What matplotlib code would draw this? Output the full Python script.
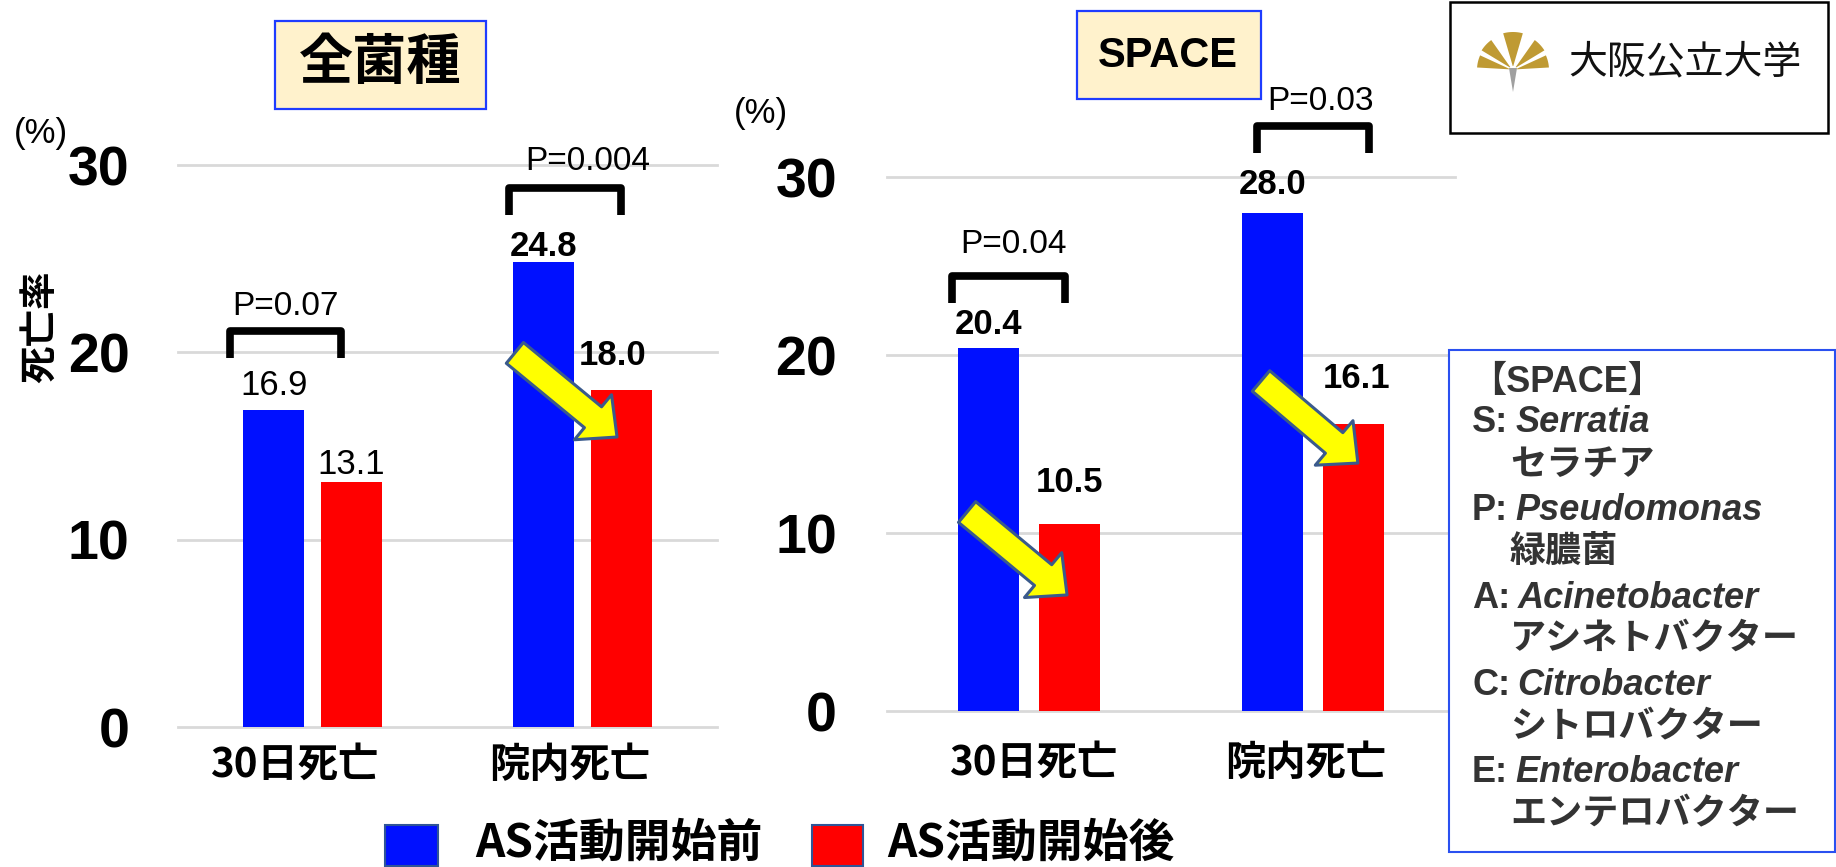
import numpy as np
import matplotlib
matplotlib.use('Agg')
import matplotlib.pyplot as plt
from matplotlib.patches import Rectangle, Polygon

# data
categories = ['30日死亡', '院内死亡']
series_names = ['AS活動開始前', 'AS活動開始後']
all_before = [16.9, 24.8]
all_after = [13.1, 18.0]
space_before = [20.4, 28.0]
space_after = [10.5, 16.1]
all_p = ['P=0.07', 'P=0.004']
space_p = ['P=0.04', 'P=0.03']
y_ticks = [0, 10, 20, 30]

space_abbr = ['S', 'P', 'A', 'C', 'E']
space_genus = ['Serratia', 'Pseudomonas', 'Acinetobacter', 'Citrobacter', 'Enterobacter']
space_kana = ['セラチア', '緑膿菌', 'アシネトバクター', 'シトロバクター', 'エンテロバクター']

BLUE = '#0010FF'
RED = '#FF0000'
GRID = '#D9D9D9'
NARROW = ['Liberation Sans Narrow', 'Liberation Sans', 'DejaVu Sans']
LATIN = ['Liberation Sans', 'DejaVu Sans']
JP = ['Noto Sans CJK JP', 'DejaVu Sans']
LATIN_JP = ['Liberation Sans', 'Noto Sans CJK JP', 'DejaVu Sans']

W, H = 1836, 867
fig = plt.figure(figsize=(W / 100, H / 100), dpi=100)


def px_axes(x0, y_bottom, x1, y_top):
    # pixel box (y from top) -> figure fraction
    return [x0 / W, (H - y_bottom) / H, (x1 - x0) / W, (y_bottom - y_top) / H]


def setup(ax, tick_pad, xlab_pad, xlab_pos):
    ax.set_xlim(-0.5, 1.5)
    ax.set_ylim(0, 30)
    ax.set_yticks(y_ticks)
    ax.set_yticklabels([str(t) for t in y_ticks], fontsize=40, fontweight='bold', family=NARROW)
    ax.set_xticks(xlab_pos)
    ax.set_xticklabels(categories, fontsize=29, fontweight='bold', family=JP)
    ax.tick_params(length=0)
    ax.tick_params(axis='y', pad=tick_pad)
    ax.tick_params(axis='x', pad=xlab_pad)
    ax.grid(axis='y', color=GRID, lw=2)
    ax.set_axisbelow(True)
    for ln in ax.get_ygridlines():
        ln.set_clip_on(False)
    for s in ax.spines.values():
        s.set_visible(False)
    ax.patch.set_alpha(0)


def bars(ax, before, after, width, off, lab_off, lab_dx, lab_bold):
    x = np.arange(len(categories))
    b1 = ax.bar(x - off, before, width, color=BLUE, zorder=2)
    b2 = ax.bar(x + off, after, width, color=RED, zorder=2)
    for i, (rb, ra) in enumerate(zip(b1, b2)):
        for j, r in enumerate((rb, ra)):
            ax.annotate(f'{r.get_height():.1f}', (r.get_x() + r.get_width() / 2, r.get_height()),
                        xytext=(lab_dx[j][i], lab_off[j][i]), textcoords='offset points',
                        ha='center', va='center', fontsize=25,
                        fontweight='bold' if lab_bold[j][i] else 'normal',
                        family=LATIN, zorder=4)


def bracket(ax, x0, x1, ytop, ybot, ptxt, px, py):
    ax.plot([x0, x0, x1, x1], [ybot, ytop, ytop, ybot], color='black', lw=5.5,
            solid_joinstyle='round', solid_capstyle='butt', clip_on=False, zorder=5)
    ax.text(px, py, ptxt, ha='center', va='center', fontsize=24, family=LATIN, clip_on=False)


def arrow(ax, tail, tip):
    ax.annotate('', xy=tip, xytext=tail,
                arrowprops=dict(arrowstyle='simple,head_length=1.12,head_width=2.1,tail_width=0.97',
                                mutation_scale=20, fc='#FFFF00', ec='#3A5A8C', lw=2.2,
                                shrinkA=0, shrinkB=0), zorder=6)


# left panel: all species
axL = fig.add_axes(px_axes(178, 727, 717, 165))
setup(axL, tick_pad=35, xlab_pad=13, xlab_pos=[-0.07, 0.955])
bars(axL, all_before, all_after, 0.226, 0.144,
     lab_off=[[18, 11.5], [12, 25]], lab_dx=[[0, 0], [0, -6]],
     lab_bold=[[False, True], [False, True]])
bracket(axL, -0.307, 0.105, 21.14, 19.7, all_p[0], -0.1, 22.45)
bracket(axL, 0.728, 1.144, 28.78, 27.34, all_p[1], 1.021, 30.19)
arrow(axL, (0.750, 19.97), (1.129, 15.48))

# right panel: SPACE
axR = fig.add_axes(px_axes(887, 711, 1455, 177))
setup(axR, tick_pad=36, xlab_pad=23, xlab_pos=[0.015, 0.975])
bars(axR, space_before, space_after, 0.215, 0.142,
     lab_off=[[17, 20], [30, 33]], lab_dx=[[0, 0], [0, 2]],
     lab_bold=[[True, True], [True, True]])
bracket(axR, -0.27, 0.127, 24.44, 22.92, space_p[0], -0.056, 26.18)
bracket(axR, 0.803, 1.197, 32.87, 31.35, space_p[1], 1.025, 34.24)
arrow(axR, (-0.218, 11.18), (0.134, 6.52))
arrow(axR, (0.817, 18.54), (1.158, 13.93))

# overlay in pixel coordinates for boxes, logo and legends
ov = fig.add_axes([0, 0, 1, 1])
ov.set_xlim(0, W)
ov.set_ylim(H, 0)
ov.set_axis_off()

ov.text(40, 327, '死亡率', rotation=90, ha='center', va='center', fontsize=27,
        fontweight='bold', family=JP)
ov.text(41, 133, '(%)', ha='center', va='center', fontsize=25, family=NARROW)
ov.text(761, 113, '(%)', ha='center', va='center', fontsize=25, family=NARROW)

# panel titles
ov.add_patch(Rectangle((275, 21), 211, 88, fc='#FFF2CC', ec='#1E3CFF', lw=1.6))
ov.text(380, 63, '全菌種', ha='center', va='center', fontsize=39, fontweight='bold', family=JP)
ov.add_patch(Rectangle((1077, 11), 184, 88, fc='#FFF2CC', ec='#1E3CFF', lw=1.6))
ov.text(1168, 56, 'SPACE', ha='center', va='center', fontsize=30, fontweight='bold', family=NARROW)

# logo
ov.add_patch(Rectangle((1450, 2), 378, 131, fc='white', ec='black', lw=1.8))
hx, hy = 1513, 70
for ang, half, r1 in ((90, 15, 38), (137, 11, 37), (43, 11, 37), (166, 10, 36), (14, 10, 36)):
    t = np.radians(np.linspace(ang - half, ang + half, 24))
    outer = np.column_stack([hx + r1 * np.cos(t), hy - r1 * np.sin(t)])
    tb = np.radians(np.array([ang + 4, ang - 4]))
    inner = np.column_stack([hx + 4 * np.cos(tb), hy - 4 * np.sin(tb)])
    ov.add_patch(Polygon(np.vstack([outer, inner]), closed=True, fc='#BF9A33', ec='none'))
ov.add_patch(Polygon([(1509, 68), (1517, 68), (1513, 92)], closed=True, fc='#A0A0A0', ec='none'))
ov.text(1568, 62, '大阪公立大学', ha='left', va='center', fontsize=28, family=JP, color='#111111')

# SPACE legend box
ov.add_patch(Rectangle((1449, 350), 386, 502, fc='white', ec='#2A50F0', lw=1.5))
TXT = '#333333'
ov.text(1470, 382, '【SPACE】', ha='left', va='center', fontsize=26, fontweight='bold',
        family=LATIN_JP, color=TXT)
fig.canvas.draw()
renderer = fig.canvas.get_renderer()
for i in range(len(space_abbr)):
    y_lat = 423 + i * 87.5
    t1 = ov.text(1472, y_lat, space_abbr[i] + ':', ha='left', va='center', fontsize=26,
                 fontweight='bold', family=LATIN, color=TXT)
    bb = t1.get_window_extent(renderer)
    ov.text(bb.x1 + 7, y_lat, space_genus[i], ha='left', va='center', fontsize=26,
            fontweight='bold', style='italic', family=LATIN, color=TXT)
    ov.text(1510, y_lat + 41, space_kana[i], ha='left', va='center', fontsize=26,
            fontweight='bold', family=JP, color=TXT)

# series legend
for x0, x1, tx, col, name in ((385, 438, 475, BLUE, series_names[0]),
                              (812, 863, 887, RED, series_names[1])):
    ov.add_patch(Rectangle((x0, 825), x1 - x0, 41, fc=col, ec='#2F5597', lw=1.5))
    ov.text(tx, 844, name, ha='left', va='center', fontsize=33, fontweight='bold', family=JP)

fig.savefig('out.png', dpi=100)
